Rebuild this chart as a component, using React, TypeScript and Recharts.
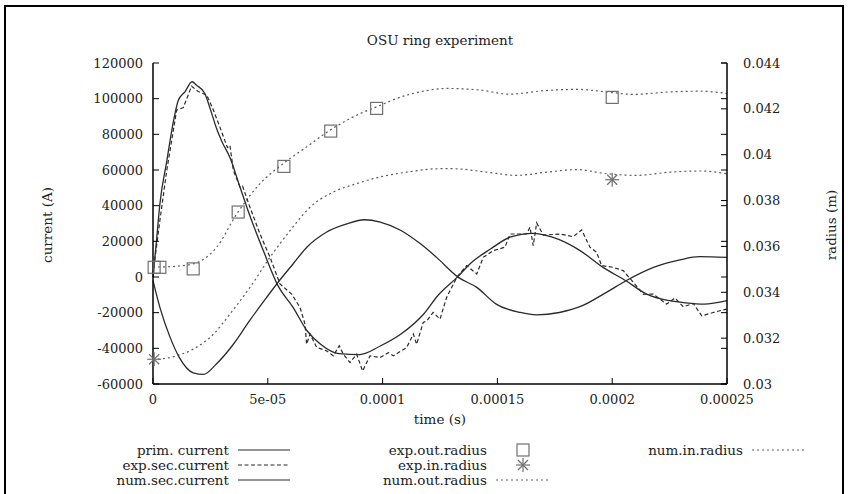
import React from "react";
import { ComposedChart, Line, Scatter, XAxis, YAxis } from "recharts";

// [time (µs), value] pairs
const primCurrent: [number, number][] = [
  [0, -2000], [3, -17000], [7.5, -34000], [11.5, -45200], [17.5, -53700], [22, -54600],
  [27.5, -48900], [35, -37700], [42, -24600], [49.5, -11400], [55, -2100], [61, 7300],
  [67, 16700], [75.5, 25100], [84.5, 29800], [92, 32100], [99, 30800], [108, 26100],
  [116.5, 18600], [123.5, 11000], [133, -200], [141, -5800], [149.5, -15200], [160, -19900],
  [167, -21200], [177, -19900], [187, -16100], [197.5, -8600], [206, -2100], [218, 5400],
  [229.5, 9600], [238, 11400], [250, 11000],
];

const expSecCurrent: [number, number][] = [
  [0, 2000], [3, 31700], [6, 59800], [10.3, 93600], [13.2, 95000], [16.8, 107000],
  [19.7, 104000], [23.4, 102000], [26.3, 93600], [29.9, 81400], [32.4, 72600], [33.5, 73800],
  [35, 59800], [37.9, 50400], [39, 51000], [42.2, 39200], [46.6, 24100], [51, 11000],
  [55.3, -3900], [60.4, -9600], [64, -17000], [66.2, -26400], [66.9, -37700], [68.4, -32000],
  [71.3, -39500], [75.6, -41400], [78.5, -44200], [81.1, -38600], [82.9, -43300], [85.8, -48000],
  [88.7, -43300], [91.3, -52700], [94.5, -44200], [98.9, -45200], [102.5, -42400], [104.7, -44200],
  [110.5, -39500], [113.4, -32000], [114.8, -37700], [117.7, -25500], [119.2, -24600], [122, -19900],
  [125, -23600], [127.9, -11400], [132.3, -200], [136.6, 6400], [141, 1700], [143.8, 11000],
  [148.2, 14800], [153.3, 16700], [155.5, 24100], [162.7, 24100], [164.2, 27900], [165.6, 17600],
  [167.1, 30300], [170, 23500], [177.2, 24100], [183, 22600], [186.7, 26400], [190.3, 16700],
  [193.2, 13900], [195.4, 6400], [200.5, 5400], [204.8, 3600], [209.2, -3000], [213.5, -9600],
  [217.9, -9600], [223.7, -15200], [227.3, -11800], [231, -16700], [235.3, -14800], [239, -21800],
  [244, -19900], [249.8, -18000],
];

const numSecCurrent: [number, number][] = [
  [0, 0], [1.5, 20000], [3, 41000], [6, 65000], [9, 88000], [11, 99000], [14, 104000],
  [17, 109500], [19, 107500], [22.5, 103000], [25, 94000], [27.5, 84000], [30, 76000],
  [33.5, 67000], [38, 50000], [42, 35000], [48, 15000], [54.5, -5000], [61, -17000],
  [67, -30000], [73, -37700], [81, -43000], [90, -43500], [99, -38700], [108, -32000],
  [118, -20600], [124, -10500], [133, 500], [138, 7300], [147, 15700], [155.5, 22300],
  [165.5, 24500], [174, 22300], [186, 14800], [196, 5400], [206, -2100], [215, -9600],
  [225, -13300], [232, -14500], [240, -15200], [250, -13300],
];

const expOutRadius: [number, number][] = [
  [0.5, 0.03509], [3, 0.03509], [17.5, 0.03502], [37.1, 0.0375], [57, 0.03949],
  [77.4, 0.04103], [97.4, 0.04202], [200, 0.0425],
];

const expInRadius: [number, number][] = [
  [0.5, 0.03108], [200, 0.03891],
];

const numOutRadius: [number, number][] = [
  [0, 0.0351], [8, 0.03512], [17.5, 0.03524], [27.7, 0.03596], [36.5, 0.03742], [46.6, 0.03874],
  [56.7, 0.03961], [66.9, 0.04034], [77.1, 0.04107], [87.2, 0.04165], [97.4, 0.04209],
  [110.5, 0.0426], [116.3, 0.04274], [127.9, 0.04289], [142.4, 0.04282], [155.5, 0.04264],
  [170, 0.04279], [184.5, 0.04285], [197.6, 0.04274], [209.2, 0.04263], [225.2, 0.04274],
  [238.2, 0.04277], [250, 0.04267],
];

const numInRadius: [number, number][] = [
  [0, 0.03105], [10.3, 0.03123], [17.5, 0.03152], [26.3, 0.03217], [33.5, 0.03305],
  [42.2, 0.03421], [51, 0.03553], [59.7, 0.03669], [68.4, 0.03771], [78.5, 0.03837],
  [88.7, 0.03874], [98.9, 0.03903], [110.5, 0.03924], [125, 0.03939], [130.8, 0.03939],
  [145.3, 0.03924], [158.3, 0.0391], [171.5, 0.03924], [184.5, 0.03935], [197.6, 0.03917],
  [210.7, 0.0391], [225.2, 0.03924], [238.2, 0.03929], [250, 0.03917],
];

const timeTicks = [0, 50, 100, 150, 200, 250];
const timeTickLabels = ["0", "5e-05", "0.0001", "0.00015", "0.0002", "0.00025"];
const currentTicks = [-60000, -40000, -20000, 0, 20000, 40000, 60000, 80000, 100000, 120000];
const radiusTicks = [0.03, 0.032, 0.034, 0.036, 0.038, 0.04, 0.042, 0.044];

const FONT = "'DejaVu Serif', serif";
const INK = "#222";
const LINE = "#2a2a2a";
const DOT = "#5a5a5a";
const MARK = "#707070";
const TICK = 6;

// chart layout
const W = 848;
const H = 494;
const MARGIN = { top: 63, right: 11, bottom: 70, left: 43 };
const Y_AXIS_W = 110;
const PLOT_W = W - MARGIN.left - MARGIN.right - 2 * Y_AXIS_W;

const rows = (pts: [number, number][]) => pts.map(([t, v]) => ({ t, v }));

const BottomTick = (p: any) => (
  <g>
    <line x1={p.x} x2={p.x} y1={p.y} y2={p.y - TICK} stroke="#000" />
    <text x={p.x} y={p.y + 15} textAnchor="middle" dominantBaseline="central" fontSize={13} fill={INK} fontFamily={FONT}>
      {timeTickLabels[timeTicks.indexOf(p.payload.value)]}
    </text>
  </g>
);

const TopTick = (p: any) => <line x1={p.x} x2={p.x} y1={p.y} y2={p.y + TICK} stroke="#000" />;

// left ticks, mirrored on the right border as gnuplot does
const LeftTick = (p: any) => (
  <g>
    <line x1={p.x} x2={p.x + TICK} y1={p.y} y2={p.y} stroke="#000" />
    <line x1={p.x + PLOT_W} x2={p.x + PLOT_W - TICK} y1={p.y} y2={p.y} stroke="#000" />
    <text x={p.x - 10} y={p.y} textAnchor="end" dominantBaseline="central" fontSize={13} fill={INK} fontFamily={FONT}>
      {p.payload.value}
    </text>
  </g>
);

const RightTick = (p: any) => (
  <g>
    <line x1={p.x} x2={p.x - TICK} y1={p.y} y2={p.y} stroke="#000" />
    <text x={p.x + 16} y={p.y} textAnchor="start" dominantBaseline="central" fontSize={13} fill={INK} fontFamily={FONT}>
      {String(p.payload.value)}
    </text>
  </g>
);

const Square = (p: any) => (
  <rect x={p.cx - 6} y={p.cy - 6} width={12} height={12} fill="none" stroke={MARK} strokeWidth={1.2} />
);

const Star = (p: any) => (
  <g stroke={MARK} strokeWidth={1.2}>
    <line x1={p.cx - 7} x2={p.cx + 7} y1={p.cy} y2={p.cy} />
    <line x1={p.cx} x2={p.cx} y1={p.cy - 7} y2={p.cy + 7} />
    <line x1={p.cx - 5} x2={p.cx + 5} y1={p.cy - 5} y2={p.cy + 5} />
    <line x1={p.cx - 5} x2={p.cx + 5} y1={p.cy + 5} y2={p.cy - 5} />
  </g>
);

const legendItems = [
  { label: "prim. current", kind: "solid", col: 0, row: 0 },
  { label: "exp.sec.current", kind: "dashed", col: 0, row: 1 },
  { label: "num.sec.current", kind: "solid", col: 0, row: 2 },
  { label: "exp.out.radius", kind: "square", col: 1, row: 0 },
  { label: "exp.in.radius", kind: "star", col: 1, row: 1 },
  { label: "num.out.radius", kind: "dotted", col: 1, row: 2 },
  { label: "num.in.radius", kind: "dotted", col: 2, row: 0 },
];
const legendCols = [229, 487, 743];

function LegendSample({ kind, x, y }: { kind: string; x: number; y: number }) {
  if (kind === "square") return <Square cx={x + 27} cy={y} />;
  if (kind === "star") return <Star cx={x + 27} cy={y} />;
  const dash = kind === "dashed" ? "4 2.5" : kind === "dotted" ? "2 3" : undefined;
  const stroke = kind === "dotted" ? DOT : LINE;
  return <line x1={x} x2={x + 52} y1={y} y2={y} stroke={stroke} strokeWidth={1.2} strokeDasharray={dash} />;
}

export default function App() {
  const frameLine = { stroke: "#000", strokeWidth: 1.5 };
  return (
    <div style={{ position: "absolute", left: 0, top: 0, width: W, height: H, background: "#fff", overflow: "hidden" }}>
      <div style={{ position: "absolute", left: 4, top: 5, width: 836, height: 520, border: "2px solid #000" }} />
      <div style={{ position: "absolute", left: 0, top: 0 }}>
        <ComposedChart width={W} height={H} margin={MARGIN}>
          <XAxis xAxisId="b" dataKey="t" type="number" domain={[0, 250]} ticks={timeTicks} interval={0}
            height={40} tickSize={0} tickMargin={0} tickLine={false} axisLine={frameLine} tick={BottomTick} />
          <XAxis xAxisId="top" orientation="top" dataKey="t" type="number" domain={[0, 250]} ticks={timeTicks}
            interval={0} height={0} tickSize={0} tickMargin={0} tickLine={false} axisLine={frameLine} tick={TopTick} />
          <YAxis yAxisId="cur" domain={[-60000, 120000]} ticks={currentTicks} interval={0} width={Y_AXIS_W}
            tickSize={0} tickMargin={0} tickLine={false} axisLine={frameLine} tick={LeftTick} />
          <YAxis yAxisId="rad" orientation="right" domain={[0.03, 0.044]} ticks={radiusTicks} interval={0}
            width={Y_AXIS_W} tickSize={0} tickMargin={0} tickLine={false} axisLine={frameLine} tick={RightTick} />

          <Line xAxisId="b" yAxisId="rad" data={rows(numOutRadius)} dataKey="v" type="monotone" dot={false}
            stroke={DOT} strokeWidth={1.2} strokeDasharray="2 3" isAnimationActive={false} />
          <Line xAxisId="b" yAxisId="rad" data={rows(numInRadius)} dataKey="v" type="monotone" dot={false}
            stroke={DOT} strokeWidth={1.2} strokeDasharray="2 3" isAnimationActive={false} />
          <Line xAxisId="b" yAxisId="cur" data={rows(primCurrent)} dataKey="v" type="monotone" dot={false}
            stroke={LINE} strokeWidth={1.3} isAnimationActive={false} />
          <Line xAxisId="b" yAxisId="cur" data={rows(numSecCurrent)} dataKey="v" type="monotone" dot={false}
            stroke={LINE} strokeWidth={1.3} isAnimationActive={false} />
          <Line xAxisId="b" yAxisId="cur" data={rows(expSecCurrent)} dataKey="v" type="linear" dot={false}
            stroke={LINE} strokeWidth={1.2} strokeDasharray="4 2.5" isAnimationActive={false} />
          <Scatter xAxisId="b" yAxisId="rad" data={rows(expOutRadius)} dataKey="v" shape={Square} isAnimationActive={false} />
          <Scatter xAxisId="b" yAxisId="rad" data={rows(expInRadius)} dataKey="v" shape={Star} isAnimationActive={false} />
        </ComposedChart>
      </div>
      <svg width={W} height={H} style={{ position: "absolute", left: 0, top: 0, pointerEvents: "none" }}
        fontFamily={FONT} fill={INK}>
        <text x={440} y={40} textAnchor="middle" dominantBaseline="central" fontSize={13.5}>OSU ring experiment</text>
        <text x={440} y={419} textAnchor="middle" dominantBaseline="central" fontSize={13.5}>time (s)</text>
        <text transform="translate(47,225) rotate(-90)" textAnchor="middle" dominantBaseline="central" fontSize={13.5}>current (A)</text>
        <text transform="translate(831,225) rotate(-90)" textAnchor="middle" dominantBaseline="central" fontSize={13.5}>radius (m)</text>
        {legendItems.map((it) => {
          const y = 450 + it.row * 15;
          const xe = legendCols[it.col];
          return (
            <g key={it.label}>
              <text x={xe} y={y} textAnchor="end" dominantBaseline="central" fontSize={13.5}>{it.label}</text>
              <LegendSample kind={it.kind} x={xe + 9} y={y} />
            </g>
          );
        })}
      </svg>
    </div>
  );
}
